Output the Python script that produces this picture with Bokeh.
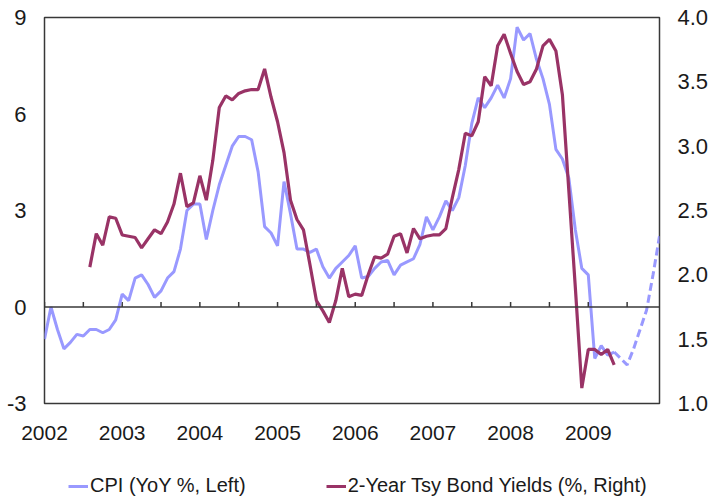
import math
from bokeh.plotting import figure
from bokeh.layouts import column
from bokeh.models import (Range1d, LinearAxis, FixedTicker, Legend, LegendItem, ColumnDataSource,
                          NumeralTickFormatter, Span)
from bokeh.embed import file_html
from bokeh.resources import INLINE

# ---- data (monthly, Jan 2002 = month 0) ----
years = ["2002", "2003", "2004", "2005", "2006", "2007", "2008", "2009"]
year_start_month = [0, 12, 24, 36, 48, 60, 72, 84]
half_year_ticks = [0, 6, 12, 18, 24, 30, 36, 42, 48, 54, 60, 66, 72, 78, 84, 90]

cpi = [
    -1.0, 0.0, -0.7, -1.3, -1.1, -0.85, -0.9, -0.7, -0.7, -0.8, -0.7, -0.4,   # 2002
    0.4, 0.2, 0.9, 1.0, 0.7, 0.3, 0.5, 0.9, 1.1, 1.8, 3.0, 3.2,             # 2003
    3.2, 2.1, 3.0, 3.8, 4.4, 5.0, 5.3, 5.3, 5.2, 4.2, 2.5, 2.3,             # 2004
    1.9, 3.9, 2.9, 1.8, 1.8, 1.7, 1.8, 1.25, 0.9, 1.2, 1.4, 1.6,            # 2005
    1.9, 0.9, 0.95, 1.2, 1.4, 1.45, 1.0, 1.3, 1.4, 1.5, 1.95, 2.8,          # 2006
    2.4, 2.8, 3.3, 3.0, 3.4, 4.4, 5.7, 6.5, 6.2, 6.5, 6.9, 6.5,             # 2007
    7.1, 8.7, 8.3, 8.5, 7.7, 7.1, 6.3, 4.9, 4.6, 4.0, 2.4, 1.2,             # 2008
    1.0, -1.6, -1.2, -1.5, -1.4, -1.6, -1.8, -1.3, -0.7, -0.1, 1.0, 2.2,    # 2009
]
cpi_actual_last = 88          # May 2009: solid up to here, dashed forecast after

bond_first_month = 7          # Aug 2002
bond = [
    2.06, 2.32, 2.23, 2.45, 2.44,                                           # 2002 (Aug-Dec)
    2.31, 2.30, 2.29, 2.21, 2.28, 2.35, 2.32, 2.41, 2.55, 2.79, 2.53, 2.56, # 2003
    2.77, 2.58, 2.89, 3.30, 3.39, 3.36, 3.41, 3.43, 3.44, 3.44, 3.60, 3.38, # 2004
    3.19, 2.95, 2.58, 2.43, 2.35, 2.08, 1.80, 1.72, 1.63, 1.80, 2.05, 1.83, # 2005
    1.85, 1.84, 2.00, 2.14, 2.13, 2.16, 2.30, 2.32, 2.17, 2.36, 2.28, 2.30, # 2006
    2.31, 2.31, 2.36, 2.60, 2.82, 3.10, 3.08, 3.19, 3.54, 3.47, 3.78, 3.87, # 2007
    3.72, 3.58, 3.48, 3.50, 3.60, 3.78, 3.83, 3.74, 3.40, 2.65, 1.90, 1.12, # 2008
    1.42, 1.42, 1.38, 1.42, 1.30,                                           # 2009 (Jan-May)
]

left_ticks = [-3, 0, 3, 6, 9]
right_ticks = [1.0, 1.5, 2.0, 2.5, 3.0, 3.5, 4.0]
legend_labels = ["CPI (YoY %, Left)", "2-Year Tsy Bond Yields (%, Right)"]

# ---- sources ----
months = list(range(len(cpi)))
src_cpi = ColumnDataSource(dict(x=months[:cpi_actual_last + 1], y=cpi[:cpi_actual_last + 1]))
src_fc = ColumnDataSource(dict(x=months[cpi_actual_last:], y=cpi[cpi_actual_last:]))
bond_months = [bond_first_month + i for i in range(len(bond))]
src_bond = ColumnDataSource(dict(x=bond_months, y=bond))
src_ticks = ColumnDataSource(dict(x=half_year_ticks, y=[0] * len(half_year_ticks)))

FONT = "Liberation Sans"
TXT = "#1a1a1a"
CPI_C = "#9999FF"
BOND_C = "#993366"
AX_C = "#383838"
W = 712
H_PLOT = 453
H_LEG = 46

p = figure(width=W, height=H_PLOT, x_range=Range1d(0, len(cpi) - 1), y_range=Range1d(-3, 9),
           output_backend="svg", toolbar_location=None,
           min_border_left=44, min_border_right=53, min_border_top=17, min_border_bottom=50)
p.extra_y_ranges = {"right": Range1d(1.0, 4.0)}
p.grid.visible = False
p.outline_line_color = AX_C
p.outline_line_width = 1.5
p.background_fill_color = "white"
p.border_fill_color = "white"

# left axis
ya = p.yaxis[0]
ya.ticker = FixedTicker(ticks=left_ticks)
ya.major_label_overrides = {t: str(t) for t in left_ticks}
ya.axis_line_color = None
ya.major_tick_line_color = None
ya.minor_tick_line_color = None
ya.major_tick_out = 0
ya.major_label_standoff = 18
ya.major_label_text_font = FONT
ya.major_label_text_font_size = "22px"
ya.major_label_text_color = TXT

# right axis
ra = LinearAxis(y_range_name="right", ticker=FixedTicker(ticks=right_ticks),
                formatter=NumeralTickFormatter(format="0.0"))
ra.axis_line_color = None
ra.major_tick_line_color = None
ra.minor_tick_line_color = None
ra.major_tick_out = 0
ra.major_label_standoff = 18
ra.major_label_text_font = FONT
ra.major_label_text_font_size = "22px"
ra.major_label_text_color = TXT
p.add_layout(ra, "right")

# bottom year labels
xa = p.xaxis[0]
xa.ticker = FixedTicker(ticks=year_start_month)
xa.major_label_overrides = {m: y for m, y in zip(year_start_month, years)}
xa.axis_line_color = None
xa.major_tick_line_color = None
xa.minor_tick_line_color = None
xa.major_tick_out = 0
xa.major_label_standoff = 22
xa.major_label_text_font = FONT
xa.major_label_text_font_size = "21px"
xa.major_label_text_color = TXT

# zero line with half-year tick marks
p.add_layout(Span(location=0, dimension="width", line_color=AX_C, line_width=1.5))
p.ray(x="x", y="y", source=src_ticks, length=5, length_units="screen", angle=math.pi / 2,
      line_color=AX_C, line_width=1.5)

# series
p.line("x", "y", source=src_cpi, line_color=CPI_C, line_width=3)
p.line("x", "y", source=src_fc, line_color=CPI_C, line_width=3, line_dash="8 4")
p.line("x", "y", source=src_bond, y_range_name="right", line_color=BOND_C, line_width=3.2)

# ---- legend strip below the chart (its own frame; series kept out of view) ----
lg = figure(width=W, height=H_LEG, x_range=Range1d(-20, -10), y_range=Range1d(0, 1),
            output_backend="svg", toolbar_location=None,
            x_axis_location=None, y_axis_location=None,
            min_border_left=0, min_border_right=0, min_border_top=0, min_border_bottom=0)
lg.grid.visible = False
lg.outline_line_color = None
lg.background_fill_color = "white"
lg.border_fill_color = "white"
k_cpi = lg.line("x", "y", source=src_cpi, line_color=CPI_C, line_width=3)
k_bond = lg.line("x", "y", source=src_bond, line_color=BOND_C, line_width=3)

legend = Legend(items=[LegendItem(label=legend_labels[0], renderers=[k_cpi]),
                       LegendItem(label=legend_labels[1], renderers=[k_bond])],
                orientation="horizontal", location=(24, 2), padding=0, margin=0, spacing=80,
                glyph_width=20, glyph_height=20, label_standoff=2,
                label_text_font=FONT, label_text_font_size="20px", label_text_color=TXT,
                border_line_color=None, background_fill_alpha=0)
lg.add_layout(legend)

layout = column(p, lg, spacing=0)
open("out.html", "w").write(file_html(layout, INLINE))
